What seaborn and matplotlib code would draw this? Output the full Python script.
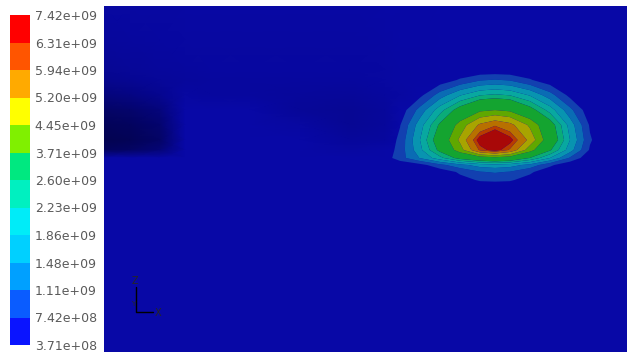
import numpy as np
import seaborn as sns
import matplotlib
matplotlib.use("Agg")
import matplotlib.pyplot as plt
from matplotlib.colors import ListedColormap, BoundaryNorm, LinearSegmentedColormap
from matplotlib.cm import ScalarMappable

sns.set_style("white")
plt.rcParams["font.family"] = ["DejaVu Sans"]

# contour levels of the legend (units of 1e9)
levels = [0.371, 0.742, 1.11, 1.48, 1.86, 2.23, 2.60, 3.71, 4.45, 5.20, 5.94, 6.31, 7.42]

# mesh node positions (m)
x_nodes = [0.0, 0.26, 0.56, 0.81, 1.06, 1.46, 1.96, 2.46, 2.81, 2.96, 3.16,
           3.36, 3.56, 3.76, 3.91, 4.06, 4.26, 4.46, 4.66, 4.86, 5.01, 5.23]
z_nodes = [3.46, 3.12, 2.82, 2.72, 2.57, 2.42, 2.27, 2.12, 2.02, 1.94, 1.87,
           1.80, 1.72, 1.62, 1.02, 0.0]

# field values at the nodes (units of 1e9), one row per z node, top to bottom
field = [
    [0.42, 0.42, 0.42, 0.43, 0.43, 0.43, 0.43, 0.43, 0.44, 0.44, 0.44, 0.45, 0.45, 0.45, 0.45, 0.45, 0.45, 0.45, 0.45, 0.45, 0.45, 0.45],
    [0.39, 0.40, 0.41, 0.42, 0.42, 0.42, 0.42, 0.42, 0.43, 0.44, 0.44, 0.45, 0.45, 0.45, 0.45, 0.45, 0.45, 0.45, 0.45, 0.45, 0.45, 0.45],
    [0.34, 0.36, 0.39, 0.40, 0.41, 0.41, 0.41, 0.41, 0.42, 0.43, 0.44, 0.45, 0.45, 0.45, 0.46, 0.45, 0.45, 0.45, 0.45, 0.45, 0.45, 0.45],
    [0.30, 0.33, 0.37, 0.39, 0.40, 0.40, 0.40, 0.40, 0.42, 0.43, 0.44, 0.50, 0.79, 1.07, 1.14, 1.07, 0.78, 0.49, 0.45, 0.45, 0.45, 0.45],
    [0.22, 0.25, 0.31, 0.42, 0.40, 0.40, 0.38, 0.37, 0.40, 0.42, 0.63, 1.28, 1.82, 2.20, 2.29, 2.20, 1.81, 1.26, 0.62, 0.45, 0.45, 0.45],
    [0.13, 0.15, 0.22, 0.45, 0.45, 0.45, 0.36, 0.34, 0.38, 0.50, 1.25, 2.08, 2.85, 3.54, 3.70, 3.54, 2.83, 2.06, 1.22, 0.47, 0.45, 0.45],
    [0.08, 0.10, 0.16, 0.45, 0.45, 0.45, 0.42, 0.34, 0.38, 0.72, 1.69, 2.69, 4.00, 5.35, 5.85, 5.45, 4.30, 2.90, 1.70, 0.69, 0.45, 0.45],
    [0.05, 0.07, 0.13, 0.45, 0.45, 0.45, 0.45, 0.38, 0.40, 0.85, 1.86, 3.00, 4.60, 6.65, 7.40, 6.55, 4.95, 3.10, 1.86, 0.79, 0.45, 0.45],
    [0.10, 0.12, 0.20, 0.45, 0.45, 0.45, 0.45, 0.42, 0.48, 0.90, 1.75, 2.75, 4.10, 6.05, 6.60, 5.85, 4.00, 2.66, 1.65, 0.69, 0.45, 0.45],
    [0.45, 0.45, 0.45, 0.45, 0.45, 0.45, 0.45, 0.45, 0.55, 0.95, 1.50, 2.10, 2.80, 3.20, 3.40, 3.20, 2.58, 1.86, 1.06, 0.45, 0.45, 0.45],
    [0.45, 0.45, 0.45, 0.45, 0.45, 0.45, 0.45, 0.45, 0.45, 0.45, 0.60, 1.00, 1.36, 1.65, 1.72, 1.65, 1.35, 0.82, 0.45, 0.45, 0.45, 0.45],
    [0.45, 0.45, 0.45, 0.45, 0.45, 0.45, 0.45, 0.45, 0.45, 0.45, 0.45, 0.51, 0.80, 1.08, 1.15, 1.08, 0.80, 0.50, 0.45, 0.45, 0.45, 0.45],
    [0.45, 0.45, 0.45, 0.45, 0.45, 0.45, 0.45, 0.45, 0.45, 0.45, 0.45, 0.45, 0.62, 0.78, 0.80, 0.78, 0.61, 0.45, 0.45, 0.45, 0.45, 0.45],
    [0.45, 0.45, 0.45, 0.45, 0.45, 0.45, 0.45, 0.45, 0.45, 0.45, 0.45, 0.45, 0.45, 0.45, 0.45, 0.45, 0.45, 0.45, 0.45, 0.45, 0.45, 0.45],
    [0.45, 0.45, 0.45, 0.45, 0.45, 0.45, 0.45, 0.45, 0.45, 0.45, 0.45, 0.45, 0.45, 0.45, 0.45, 0.45, 0.45, 0.45, 0.45, 0.45, 0.45, 0.45],
    [0.45, 0.45, 0.45, 0.45, 0.45, 0.45, 0.45, 0.45, 0.45, 0.45, 0.45, 0.45, 0.45, 0.45, 0.45, 0.45, 0.45, 0.45, 0.45, 0.45, 0.45, 0.45],
]

# legend band colours, bottom to top
legend_colors = ["#0a14ff", "#0a5cff", "#00a0ff", "#00d0ff", "#00ecf8", "#00f0c0",
                 "#00e880", "#80f000", "#ffff00", "#ffaa00", "#ff5500", "#ff0000"]
# same bands as they look on the shaded surface
field_colors = ["#0808a6", "#1240b0", "#0a6cb4", "#0894b0", "#08a8a0", "#0aac78",
                "#14a430", "#60a800", "#a8a400", "#b87000", "#b83c00", "#a80808"]

fig = plt.figure(figsize=(6.33, 3.55), dpi=100)
ax = fig.add_axes([104 / 633, 3 / 355, 523 / 633, 346 / 355])

X, Z = np.meshgrid(x_nodes, z_nodes)
V = np.array(field)

# dark shading of the low-value region
shade = LinearSegmentedColormap.from_list(
    "shade", ["#020244", "#04046c", "#06068e", field_colors[0]])
ax.pcolormesh(X, Z, V, shading="gouraud", cmap=shade, vmin=0.0, vmax=0.45)
ax.contourf(X, Z, V, levels=levels[1:], colors=field_colors[1:], antialiased=True)

ax.set_xlim(min(x_nodes), max(x_nodes))
ax.set_ylim(min(z_nodes), max(z_nodes))
ax.set_axis_off()

# axis triad
ax.plot([0.061, 0.061, 0.094], [0.188, 0.116, 0.116], color="black", lw=1,
        transform=ax.transAxes)
ax.text(0.059, 0.190, "Z", fontsize=7, ha="center", va="bottom", transform=ax.transAxes)
ax.text(0.097, 0.113, "X", fontsize=7, ha="left", va="center", transform=ax.transAxes)
ax.text(0.055, 0.140, "Y", fontsize=5, ha="center", va="center", transform=ax.transAxes)

# legend
cax = fig.add_axes([10 / 633, 10 / 355, 20 / 633, 330 / 355])
cmap = ListedColormap(sns.color_palette(legend_colors))
norm = BoundaryNorm([v * 1e9 for v in levels], cmap.N)
cb = fig.colorbar(ScalarMappable(norm=norm, cmap=cmap), cax=cax,
                  spacing="uniform", ticks=[v * 1e9 for v in levels])
cb.set_ticklabels(["{:.2e}".format(v * 1e9) for v in levels])
cb.outline.set_visible(False)
cb.ax.tick_params(length=0, pad=3.5, labelsize=9, labelcolor="#5a5a5a")

fig.savefig("out.png", dpi=100)
